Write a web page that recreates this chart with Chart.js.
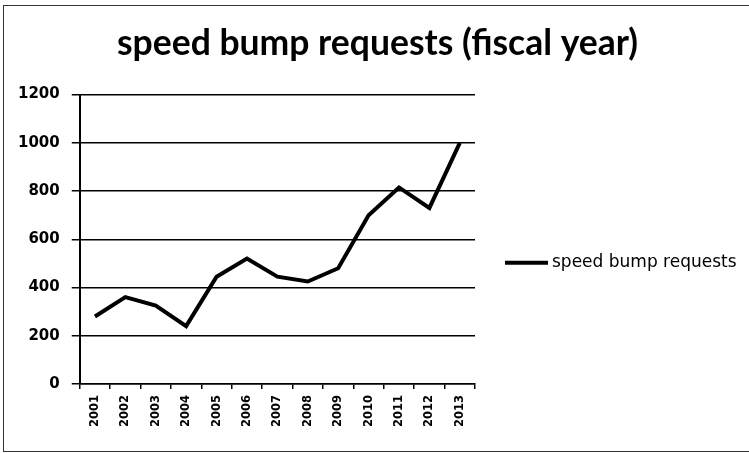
<!DOCTYPE html>
<html>
<head>
<meta charset="utf-8">
<script src="https://cdn.jsdelivr.net/npm/chart.js@4"></script>
<style>
  body { margin: 0; background: #fff; }
  #frame { position: absolute; left: 3px; top: 5px; width: 800px; height: 445px; border: 1px solid #333; }
  #lineGraph { position: absolute; left: 0; top: 0; }
</style>
</head>
<body>
<div id="frame"></div>
<canvas id="lineGraph" width="749" height="453"></canvas>
<script>
// dati
var chartTitle = 'speed bump requests (fiscal year)';
var seriesName = 'speed bump requests';
var years = ['2001', '2002', '2003', '2004', '2005', '2006', '2007',
             '2008', '2009', '2010', '2011', '2012', '2013'];
var requests = [280, 360, 325, 240, 445, 520, 445, 425, 480, 700, 815, 730, 1000];
var yMin = 0;
var yMax = 1200;
var yStep = 200;

// legenda disegnata a mano a destra del grafico (quella di Chart.js viene tagliata)
var sideLegend = {
  id: 'sideLegend',
  afterDraw: function(chart) {
    var c = chart.ctx;
    var area = chart.chartArea;
    var ds = chart.data.datasets[0];
    var x = area.right + 30;
    var y = (chart.titleBlock.bottom + chart.height) / 2 - 11;
    c.save();
    c.strokeStyle = ds.borderColor;
    c.lineWidth = ds.borderWidth;
    c.beginPath();
    c.moveTo(x, y);
    c.lineTo(x + 43, y);
    c.stroke();
    c.fillStyle = '#000';
    c.font = '17px "DejaVu Sans"';
    c.textBaseline = 'middle';
    c.textAlign = 'left';
    c.fillText(ds.label, x + 47, y);
    c.restore();
  }
};

function init() {
  getLineGraph();
}

// grafico a linea
function getLineGraph() {
  var ctx = document.getElementById('lineGraph');
  var myChart = new Chart(ctx, {
    type: 'line',
    data: {
      labels: years,
      datasets: [{
        label: seriesName,
        data: requests,
        borderColor: '#000',
        backgroundColor: '#000',
        borderWidth: 4,
        pointRadius: 0,
        tension: 0
      }]
    },
    options: {
      responsive: false,
      animation: false,
      layout: { padding: { left: 6, right: 0, top: 0, bottom: 20 } },
      plugins: {
        title: {
          display: true,
          text: chartTitle,
          color: '#000',
          font: { family: 'Lato', size: 35.5, weight: 'bold' },
          padding: { top: 22, bottom: 30 }
        },
        legend: { display: false },
        tooltip: { enabled: false }
      },
      scales: {
        x: {
          offset: true,
          grid: { offset: true, drawOnChartArea: false, color: '#000', tickLength: 5, lineWidth: 1.5 },
          border: { color: '#000', width: 1.5 },
          ticks: {
            color: '#000',
            font: { family: 'DejaVu Sans', size: 11.5, weight: 'bold' },
            minRotation: 90,
            maxRotation: 90,
            autoSkip: false,
            padding: 6
          }
        },
        y: {
          min: yMin,
          max: yMax,
          grid: { color: '#000', lineWidth: 1.5, tickLength: 8 },
          border: { color: '#000', width: 2 },
          ticks: {
            stepSize: yStep,
            color: '#000',
            font: { family: 'DejaVu Sans', size: 15, weight: 'bold' },
            padding: 12,
            callback: function(value) { return String(value); }
          }
        },
        // asse vuoto a destra: lascia lo spazio per la legenda
        spazio: {
          position: 'right',
          display: true,
          grid: { display: false },
          border: { display: false },
          ticks: { display: false },
          afterFit: function(scale) { scale.width = 274; }
        }
      }
    },
    plugins: [sideLegend]
  });
}

init();
</script>
</body>
</html>
